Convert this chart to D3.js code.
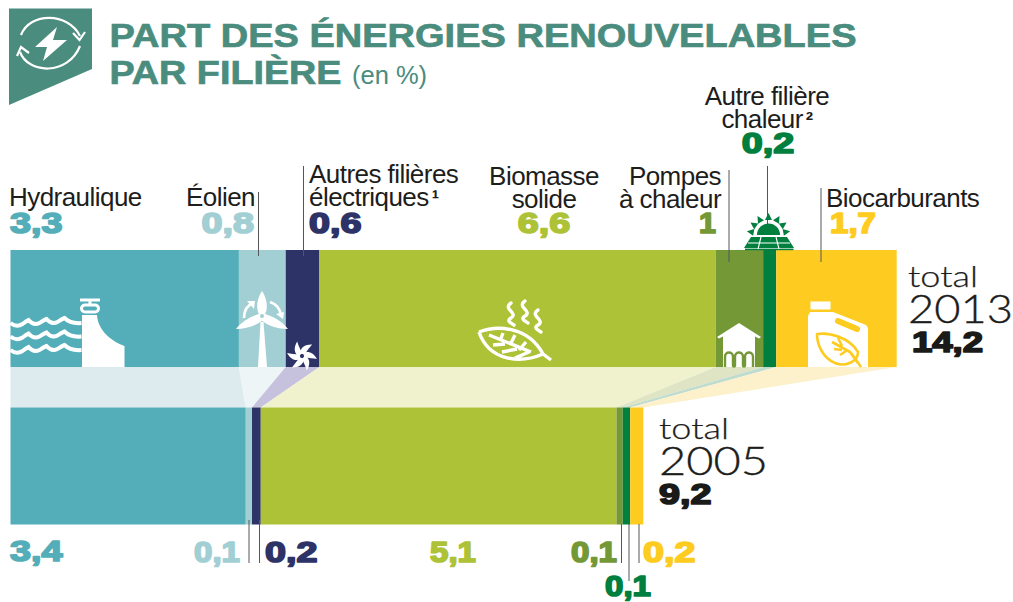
<!DOCTYPE html>
<html lang="fr"><head><meta charset="utf-8">
<script src="https://cdn.jsdelivr.net/npm/d3@7"></script>
<style>html,body{margin:0;padding:0;background:#fff;overflow:hidden}svg{display:block}</style>
</head><body><svg id="c" width="1013" height="602"></svg>
<script>
// Categories and values
const filieres = ["Hydraulique","Éolien","Autres filières électriques","Biomasse solide","Pompes à chaleur","Autre filière chaleur","Biocarburants"];
const labels2013 = ["3,3","0,8","0,6","6,6","1","0,2","1,7"];
const labels2005 = ["3,4","0,1","0,2","5,1","0,1","0,1","0,2"];
// Lengths of the bars as drawn in the picture (the source is not strictly proportional)
const drawn2013 = [3.66,0.75,0.54,6.35,0.76,0.21,1.93];
const drawn2005 = [3.77,0.10,0.14,5.70,0.10,0.12,0.21];
const colours = ["#54aeb9","#a2cfd4","#2d3366","#adc236","#749836","#017f3e","#fecc21"];
const ribbons = ["#deebee","#eef5f7","#c6c1dc","#eff2cd","#dfe4c4","#bfdcce","#fdf1cc"];
const totals = ["14,2","9,2"];
const years = ["2013","2005"];

const svg = d3.select("#c");
const x = d3.scaleLinear().domain([0,14.2]).range([10.5,896.7]);
const y = d3.scaleBand().domain(years).range([250,524.5]).paddingInner(0.257).paddingOuter(0);
const edges = a => { let s = 0; return a.map(v => { const r=[s,s+v]; s+=v; return r; }); };
const e13 = edges(drawn2013), e05 = edges(drawn2005);
const FONT = "'Liberation Sans',Arial,sans-serif";
const LIGHT = "'Lato','Liberation Sans',sans-serif";
const TXT = "#1d1d1b", TEAL="#4a8c7d";

// ribbons
const ribbonTop = y("2013")+y.bandwidth(), ribbonBot = y("2005");
svg.append("g").selectAll("path").data(d3.range(7)).join("path")
  .attr("d", i => `M${x(e13[i][0])},${ribbonTop}L${x(e13[i][1])},${ribbonTop}L${x(e05[i][1])},${ribbonBot}L${x(e05[i][0])},${ribbonBot}Z`)
  .attr("fill", i => ribbons[i]);

// bars
[[ "2013",e13],["2005",e05]].forEach(([yr,e]) => {
  svg.append("g").selectAll("rect").data(e).join("rect")
    .attr("x", d => x(d[0])).attr("width", d => x(d[1])-x(d[0]))
    .attr("y", y(yr)).attr("height", y.bandwidth())
    .attr("fill", (d,i) => colours[i]);
});

// Text helpers
function label(lines, px, base, anchor){
  lines.forEach((t,i)=>{
    const el = svg.append("text").attr("x",px).attr("y",base+i*23)
      .attr("font-family",FONT).attr("font-size",26).attr("fill",TXT).attr("text-anchor",anchor||"start").attr("letter-spacing",-0.55);
    const m = t.match(/^(.*)([¹²])$/);
    if(m){ el.text(m[1]); el.append("tspan").attr("dx",3).attr("font-weight","bold").attr("font-size",22).text(m[2]); }
    else el.text(t);
  });
}
function num(t, px, base, fill, anchor){
  const ones = t.includes("1");
  const sx = t.length===1 ? 1.05 : ones ? (t.length===4 ? 1.26 : 1.14) : 1.3;
  const g = svg.append("g").attr("transform",`translate(${px},${base}) scale(${sx},1)`);
  g.append("text").text(t).attr("font-family",FONT).attr("font-weight","bold").attr("font-size",29)
   .attr("fill",fill).attr("stroke",fill).attr("stroke-width",1.7).attr("stroke-linejoin","round")
   .attr("text-anchor",anchor||"start");
}
function line(px,y1,y2){ svg.append("line").attr("x1",px).attr("x2",px).attr("y1",y1).attr("y2",y2).attr("stroke","#55565a").attr("stroke-width",1); }

// Title
svg.append("path").attr("d","M9,8.5H92V69L9,105Z").attr("fill",TEAL);
svg.append("text").text("PART DES ÉNERGIES RENOUVELABLES").attr("x",109.5).attr("y",47)
  .attr("font-family",FONT).attr("font-weight","bold").attr("font-size",33.5).attr("fill",TEAL)
  .attr("stroke",TEAL).attr("stroke-width",0.7)
  .attr("textLength",747).attr("lengthAdjust","spacingAndGlyphs");
svg.append("text").text("PAR FILIÈRE").attr("x",109.5).attr("y",84)
  .attr("font-family",FONT).attr("font-weight","bold").attr("font-size",33.5).attr("fill",TEAL)
  .attr("stroke",TEAL).attr("stroke-width",0.7)
  .attr("textLength",232).attr("lengthAdjust","spacingAndGlyphs");
svg.append("text").text("(en %)").attr("x",352).attr("y",84)
  .attr("font-family",FONT).attr("font-size",25.5).attr("fill",TEAL);

// Badge icon
const bi = svg.append("g").attr("fill","none").attr("stroke","#fff").attr("stroke-width",2.2);
bi.append("path").attr("d","M21,35 C30,12 68,12 80,36");
bi.append("path").attr("d","M20,52 C28,74 68,76 80,46");
bi.append("path").attr("d","M73,33 L79.5,40 L85,32");
bi.append("path").attr("d","M17,56 L21,47 L29,53");
svg.append("path").attr("d","M57,27 L35,47 L47,47 L43,61 L67,40 L53,40 Z").attr("fill","#fff");

// Top labels
label(["Hydraulique"],9,206);
num(labels2013[0],10,233,colours[0]);
label(["Éolien"],255,206,"end");
num(labels2013[1],254,233,colours[1],"end");
label(["Autres filières","électriques¹"],309,183);
num(labels2013[2],309,233,colours[2]);
label(["Biomasse","solide"],544,185,"middle");
num(labels2013[3],544,233,colours[3],"middle");
label(["Pompes","à chaleur"],721,185,"end");
num(labels2013[4],716,233,colours[4],"end");
label(["Autre filière","chaleur²"],767,105,"middle");
num(labels2013[5],768,153,colours[5],"middle");
label(["Biocarburants"],826,207);
num(labels2013[6],830,233,colours[6]);

// Leaders
line(258.5,192,256); line(303.5,166,256); line(729,170,262); line(767.5,166,232); line(821,188,262);
line(249,520,563); line(259.5,520,563); line(621.5,524,563); line(629,524,581); line(639,524,563);

// Bottom labels
num(labels2005[0],10,561,colours[0]);
num(labels2005[1],240,562,colours[1],"end");
num(labels2005[2],265,562,colours[2]);
num(labels2005[3],430,562,colours[3]);
num(labels2005[4],617,562,colours[4],"end");
num(labels2005[5],605,595.5,colours[5]);
num(labels2005[6],643,562,colours[6]);

// Totals
function total(yr, px, base, w){
  svg.append("text").text("total").attr("x",px).attr("y",base).attr("font-family",LIGHT)
    .attr("font-size",29).attr("font-weight",300).attr("fill",TXT).attr("stroke",TXT).attr("stroke-width",0.25)
    .attr("textLength",70).attr("lengthAdjust","spacingAndGlyphs");
  svg.append("text").text(yr).attr("x",px).attr("y",base+36).attr("font-family",LIGHT)
    .attr("font-size",40).attr("font-weight",300).attr("fill",TXT).attr("stroke",TXT).attr("stroke-width",0.35)
    .attr("textLength",w).attr("lengthAdjust","spacingAndGlyphs");
}
total(years[0],908,287,105);
total(years[1],659,439,109);
num(totals[0],912,351.5,"#1a1a18");
num(totals[1],659,504,"#1a1a18");

// Icons (decoration)
const W="#fff";
const ic = svg.append("g");
// hydro
[325,338.5,352].forEach(w=>{
  ic.append("path").attr("fill","none").attr("stroke",W).attr("stroke-width",4)
   .attr("d",`M10.5,${w-2} q6,5 12,1 q4,-3 6,-4 q5,6 11,3 q4,-3 7,-4 q5,6 11,3 q4,-3 7,-4 q6,6 17,5`);
});
ic.append("path").attr("fill",W).attr("d","M82,315 H97 C98,330 110,340 122,345 L124.5,346 V367 H82Z");
ic.append("rect").attr("x",80).attr("y",298.5).attr("width",20).attr("height",3).attr("fill",W);
ic.append("rect").attr("x",81.5).attr("y",305).attr("width",17).attr("height",7).attr("rx",3.5).attr("fill","none").attr("stroke",W).attr("stroke-width",3);
ic.append("rect").attr("x",88.5).attr("y",300).attr("width",3).attr("height",6).attr("fill",W);
// wind
ic.append("path").attr("fill",W).attr("d","M258,367 L260.5,322 H263.5 L267,367Z");
ic.append("path").attr("fill",W).attr("d","M262,291 C267,298 268,308 265.5,313 H258.5 C256,308 257,298 262,291Z");
ic.append("path").attr("fill",W).attr("d","M236,329 C242,321 252,316 259,314 L263,320 C256,326 246,329 236,329Z");
ic.append("path").attr("fill",W).attr("d","M288,329 C282,321 272,316 265,314 L261,320 C268,326 278,329 288,329Z");
ic.append("circle").attr("cx",262).attr("cy",316).attr("r",3).attr("fill",colours[1]).attr("stroke",W).attr("stroke-width",2);
ic.append("path").attr("fill","none").attr("stroke",W).attr("stroke-width",2.6).attr("d","M244,318 C244,310 248,305 253,303");
ic.append("path").attr("fill",W).attr("d","M247,301 L255,301 L254,309Z");
ic.append("path").attr("fill","none").attr("stroke",W).attr("stroke-width",2.6).attr("d","M270,302 C276,304 280,309 281,315");
ic.append("path").attr("fill",W).attr("d","M276,314 L284,312 L283,319Z");
// small turbine
d3.range(6).forEach(i=>{
  ic.append("path").attr("fill",W).attr("transform",`translate(302,356) rotate(${i*60+10})`)
    .attr("d","M-2.5,-2 C-3,-8 1,-12 8,-13 C6,-10 4,-6 2.5,-2Z");
});
// leaf + steam
ic.append("path").attr("fill","none").attr("stroke",W).attr("stroke-width",3.4).attr("stroke-linejoin","round").attr("d",
  "M479,332 C497,325 528,326 543,354 L551,360 M543,354 C520,364 489,361 479,332 M489,335 L531,352 M503,333 L500,341 M515,335 L510,345 M526,342 L519,350 M493,345 L505,344 M502,352 L517,349 M515,358 L529,352");
[[511,303],[525,301],[538,310]].forEach(([a,b])=>{
  ic.append("path").attr("fill","none").attr("stroke",W).attr("stroke-width",3.4).attr("stroke-linecap","round")
    .attr("d",`M${a},${b} C${a-9},${b+6} ${a+8},${b+10} ${a},${b+15} C${a-5},${b+18} ${a},${b+20} ${a+3},${b+22}`);
});
// house
ic.append("path").attr("fill",W).attr("d","M739,323 L761,337 L759,338.5 L755,336.5 V367 H723 V336.5 L719,338.5 L717,337Z");
ic.append("path").attr("fill","none").attr("stroke",colours[4]).attr("stroke-width",2.4)
  .attr("d","M725,367 V357 C725,351 733,351 733,357 V365 C733,367 735,367 735,365 V357 C735,351 743,351 743,357 V365 C743,367 745,367 745,365 V357 C745,351 753,351 753,357 V367");
// solar
const sol = svg.append("g").attr("fill",colours[5]);
sol.append("path").attr("d","M757,235 A11.5,11.5 0 0 1 780,235Z");
[-80,-55,-30,0,30,55,80].forEach(a=>{
  sol.append("path").attr("transform",`translate(768.5,235) rotate(${a})`).attr("d","M-3.5,-15 L0,-22 L3.5,-15Z");
});
sol.append("path").attr("d","M751,237 H787 L794,248 H744Z");
sol.append("rect").attr("x",745).attr("y",248.6).attr("width",48.5).attr("height",1.6);
sol.append("path").attr("stroke","#fff").attr("stroke-width",1.1).attr("d","M748,243 H790 M761,237 L758,249 M776,237 L779,249");
// canister
ic.append("rect").attr("x",810.5).attr("y",301.5).attr("width",20).attr("height",8).attr("fill",W);
ic.append("path").attr("fill",W).attr("d","M808,316 L810,312 H833 L866,325 L868,328 V367 H808Z");
ic.append("path").attr("stroke",colours[6]).attr("stroke-width",6).attr("stroke-linecap","round").attr("d","M838,321 L857,329");
ic.append("path").attr("fill","none").attr("stroke",colours[6]).attr("stroke-width",2.6).attr("stroke-linejoin","round")
  .attr("d","M817,334 C830,332 850,338 858,352 C858,362 845,367 835,363 C823,358 817,345 817,334Z M858,363 L850,352 L832,342 M842,346 L838,338 M846,351 L840,355 M834,349 L842,350");
ic.append("path").attr("stroke",colours[6]).attr("stroke-width",2.6).attr("d","M851,353 L861,367");
</script></body></html>
